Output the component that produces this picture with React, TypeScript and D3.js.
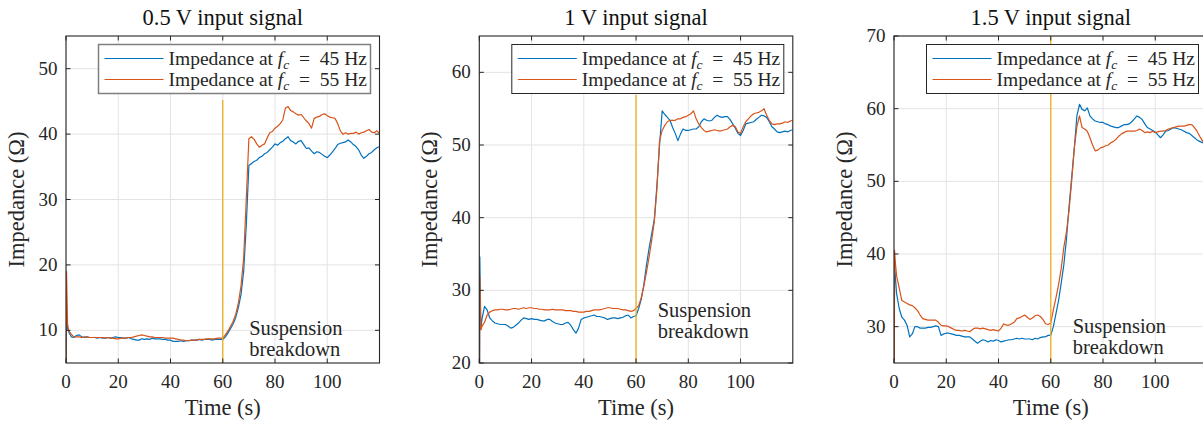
import React from "react";
import * as d3 from "d3";

// ---- data ----
const TIME: number[] = [0, 0.2, 0.6, ...d3.range(1, 121)];
const X_TICKS = [0, 20, 40, 60, 80, 100];
const P1_Y_TICKS = [10, 20, 30, 40, 50];
const P2_Y_TICKS = [20, 30, 40, 50, 60];
const P3_Y_TICKS = [30, 40, 50, 60, 70];
const TITLES = ["0.5 V input signal", "1 V input signal", "1.5 V input signal"];
const LEGEND = ["45", "55"];
const BREAKDOWN_T = 60;

// 0.5 V, fc = 45 Hz
const P1_BLUE = [0, 12, 10.3,
  9.8, 9.0, 8.9, 9.2, 9.3, 9.0, 8.9, 9.0, 8.9, 8.9,
  8.9, 8.8, 8.9, 8.8, 8.8, 8.9, 8.8, 8.9, 9.0, 8.9,
  8.9, 8.8, 8.8, 8.9, 8.7, 8.6, 8.5, 8.5, 8.7, 8.6,
  8.7, 8.6, 8.8, 8.7, 8.7, 8.7, 8.6, 8.6, 8.5, 8.5,
  8.3, 8.3, 8.3, 8.4, 8.3, 8.4, 8.4, 8.5, 8.5, 8.5,
  8.6, 8.5, 8.6, 8.6, 8.6, 8.5, 8.6, 8.6, 8.6, 8.6,
  9.0, 9.6, 10.3, 11.0, 12.0, 13.5, 15.5, 19, 26, 35.2,
  35.5, 35.8, 36.0, 36.4, 36.6, 37.0, 37.2, 37.6, 38.0, 38.5,
  38.3, 38.7, 38.9, 39.3, 39.6, 39.0, 38.8, 38.5, 38.9, 39.0,
  38.4, 37.8, 37.9, 37.4, 37.0, 37.3, 37.2, 36.9, 36.6, 36.4,
  36.8, 37.3, 37.8, 38.4, 38.6, 38.7, 38.8, 39.1, 38.8, 38.4,
  38.1, 37.6, 36.8, 36.3, 36.6, 37.0, 37.2, 37.6, 37.9, 38.1];
// 0.5 V, fc = 55 Hz
const P1_RED = [0, 19, 11,
  10.0, 9.4, 9.0, 9.0, 9.0, 8.9, 9.0, 9.0, 8.9, 8.9,
  8.9, 8.9, 8.9, 8.9, 8.8, 8.9, 8.8, 8.8, 8.7, 8.7,
  8.8, 8.8, 8.8, 8.9, 8.9, 9.0, 9.1, 9.2, 9.3, 9.2,
  9.1, 9.0, 9.0, 8.9, 8.9, 8.9, 8.9, 8.8, 8.8, 8.8,
  8.8, 8.7, 8.6, 8.5, 8.5, 8.4, 8.4, 8.5, 8.5, 8.5,
  8.6, 8.6, 8.6, 8.7, 8.7, 8.7, 8.7, 8.8, 8.8, 8.8,
  9.3, 9.9, 10.6, 11.4, 12.5, 14.2, 16.8, 21, 30, 39.3,
  39.6, 39.2, 38.5, 38.0, 38.3, 38.5, 39.4, 40.2, 40.4, 40.9,
  41.2, 41.6, 42.2, 44.0, 44.2, 43.6, 43.4, 43.1, 42.9, 43.0,
  42.5, 42.0, 41.6, 40.9, 42.4, 42.6, 42.7, 43.0, 43.1, 42.8,
  42.6, 42.5, 42.4, 41.6, 40.5, 40.0, 40.2, 40.0, 40.1, 40.1,
  40.3, 40.0, 40.2, 40.3, 40.5, 40.7, 40.3, 40.2, 40.5, 40.1];
// 1 V, fc = 45 Hz
const P2_BLUE = [0, 34.6, 24.6,
  26.0, 27.8, 27.3, 26.2, 25.8, 25.5, 25.4, 25.3, 25.3, 25.3,
  25.1, 24.8, 24.9, 25.2, 25.5, 25.9, 26.2, 26.1, 26.0, 26.1,
  26.0, 26.0, 25.9, 25.8, 25.8, 26.0, 26.0, 25.7, 25.5, 25.4,
  25.3, 25.3, 25.5, 25.6, 25.2, 24.6, 24.1, 24.8, 26.0, 26.2,
  26.3, 26.4, 26.5, 26.6, 26.4, 26.4, 26.3, 26.2, 26.0, 26.1,
  26.2, 26.2, 26.1, 26.2, 26.3, 26.5, 26.6, 26.2, 26.4, 26.5,
  27.5, 28.8, 30.8, 33.5, 35.8, 37.8, 39.8, 44.5, 50.0, 54.7,
  54.2, 53.8, 53.4, 52.4, 51.6, 50.6, 51.5, 52.2, 52.0, 52.0,
  52.1, 52.2, 52.2, 52.5, 53.2, 53.6, 53.4, 53.3, 53.4, 53.8,
  54.1, 53.9, 53.8, 53.9, 53.9, 53.5, 52.9, 52.3, 51.6, 51.3,
  52.0, 52.9, 53.0, 53.1, 53.2, 53.5, 53.8, 54.1, 54.0, 53.8,
  53.2, 52.5, 52.2, 51.8, 51.7, 51.8, 51.9, 51.8, 52.0, 52.1];
// 1 V, fc = 55 Hz
const P2_RED = [0, 31.9, 24.6,
  25.0, 25.6, 26.6, 27.0, 27.2, 27.3, 27.3, 27.4, 27.4, 27.3,
  27.3, 27.4, 27.5, 27.5, 27.4, 27.5, 27.6, 27.5, 27.6, 27.6,
  27.5, 27.5, 27.4, 27.4, 27.3, 27.3, 27.3, 27.4, 27.3, 27.3,
  27.3, 27.3, 27.2, 27.2, 27.2, 27.1, 27.1, 27.0, 27.0, 27.0,
  27.1, 27.1, 27.2, 27.3, 27.3, 27.3, 27.4, 27.5, 27.6, 27.6,
  27.5, 27.5, 27.5, 27.4, 27.3, 27.3, 27.2, 27.1, 27.2, 27.5,
  27.9, 29.0, 30.6, 32.5, 34.6, 36.9, 39.5, 44.0, 50.6, 52.0,
  52.7, 53.2, 53.4, 53.4, 53.4, 53.6, 53.6, 53.8, 53.9, 54.1,
  54.3, 54.7, 53.6, 52.9, 52.4, 52.0, 51.8, 51.9, 52.0, 52.1,
  52.0, 51.9, 52.0, 52.1, 52.2, 52.5, 52.7, 52.5, 51.8, 51.6,
  52.5, 53.2, 53.6, 54.0, 54.3, 54.4, 54.5, 54.7, 55.0, 54.1,
  53.4, 52.9, 52.8, 52.9, 52.9, 53.0, 53.2, 53.1, 53.3, 53.4];
// 1.5 V, fc = 45 Hz
const P3_BLUE = [0, 38.5, 36.5,
  34.5, 32.5, 31.3, 30.9, 30.2, 28.6, 29.0, 30.0, 30.0, 29.8,
  29.8, 29.8, 29.9, 29.9, 30.0, 30.1, 30.0, 28.8, 29.0, 29.1,
  29.1, 29.0, 28.9, 28.8, 28.8, 28.7, 28.6, 28.6, 28.6, 28.3,
  28.0, 27.7, 28.0, 28.2, 28.1, 27.9, 28.1, 28.0, 28.2, 28.1,
  27.9, 28.0, 28.1, 28.2, 28.2, 28.3, 28.4, 28.3, 28.4, 28.3,
  28.3, 28.3, 28.2, 28.4, 28.3, 28.5, 28.6, 28.6, 28.8, 28.8,
  30.0, 31.8, 33.6, 36.0, 38.5, 42.0, 46.5, 50.5, 54.5, 59.0,
  60.6, 59.9, 59.7, 60.1, 59.0, 58.6, 58.3, 58.2, 58.1, 58.1,
  57.9, 57.8, 57.6, 57.5, 57.4, 57.4, 57.6, 57.8, 57.8, 57.9,
  58.2, 58.6, 59.0, 58.8, 58.5, 57.9, 57.4, 57.2, 57.0, 56.8,
  56.4, 56.0, 56.4, 56.9, 57.0, 57.2, 57.4, 57.3, 57.2, 57.1,
  56.9, 56.7, 56.6, 56.3, 56.0, 55.7, 55.5, 55.3, 55.5, 55.2];
// 1.5 V, fc = 55 Hz
const P3_RED = [0, 40.5, 38.5,
  37.0, 35.3, 33.6, 33.4, 33.2, 33.0, 32.9, 32.6, 32.2, 31.6,
  31.1, 31.0, 30.9, 30.9, 30.9, 30.9, 30.6, 30.2, 30.1, 30.1,
  30.0, 29.8, 29.6, 29.5, 29.5, 29.4, 29.5, 29.4, 29.3, 29.6,
  29.8, 29.8, 29.7, 29.8, 29.7, 29.6, 29.5, 29.6, 29.5, 29.4,
  29.8, 30.4, 30.2, 30.2, 30.4, 30.6, 31.1, 31.2, 31.4, 31.6,
  31.3, 31.0, 31.2, 31.5, 31.6, 31.4, 31.0, 30.4, 30.3, 30.5,
  32.3, 34.0, 35.8, 38.0, 40.9, 43.0, 46.0, 50.0, 54.5, 57.5,
  59.0, 57.4, 57.2, 56.9, 56.0, 55.0, 54.2, 54.3, 54.6, 54.7,
  54.9, 55.0, 55.3, 55.5, 55.8, 56.2, 56.5, 56.7, 56.9, 56.9,
  56.9, 56.9, 57.0, 57.2, 57.0, 56.7, 56.8, 56.7, 56.9, 56.7,
  56.8, 56.9, 56.9, 57.0, 57.2, 57.3, 57.4, 57.5, 57.6, 57.6,
  57.6, 57.7, 57.8, 57.8, 57.4, 56.9, 56.2, 55.6, 54.9, 54.6];

// ---- layout / style ----
const FONT = '"Liberation Serif", "Times New Roman", serif';
const BLUE = "#0072BD";
const RED = "#D95319";
const YELLOW = "#EDB120";
const AX = "#262626";
const PW = 313.5;
const PH = 327;

const PANELS = [
  { left: 66, top: 36, yDomain: [5, 55], yTicks: P1_Y_TICKS, blue: P1_BLUE, red: P1_RED, vTop: 45.2, ann: [70.1, 9.3], legendStroke: "#7f7f7f", legendW: 1.5 },
  { left: 479.3, top: 36, yDomain: [20, 65], yTicks: P2_Y_TICKS, blue: P2_BLUE, red: P2_RED, vTop: 56.9, ann: [68.3, 26.35], legendStroke: AX, legendW: 1 },
  { left: 894, top: 36, yDomain: [25, 70], yTicks: P3_Y_TICKS, blue: P3_BLUE, red: P3_RED, vTop: 70, ann: [68.4, 29.1], legendStroke: AX, legendW: 1 },
];

function Panel({ p, idx }: { p: any; idx: number }) {
  const x = d3.scaleLinear().domain([0, 120]).range([p.left, p.left + PW]);
  const y = d3.scaleLinear().domain(p.yDomain).range([p.top + PH, p.top]);
  const line = d3.line<number>().x((_, i) => x(TIME[i])).y((d) => y(d));
  const clipId = `clip${idx}`;
  const bottom = p.top + PH;
  const right = p.left + PW;
  const lgRight = right - 9;
  const lgW = 272;
  const lgL = lgRight - lgW;
  const lgT = p.top + 8.5;
  const lgH = 49;
  const tl = 4.5;
  return (
    <g>
      <defs>
        <clipPath id={clipId}>
          <rect x={p.left} y={p.top} width={PW} height={PH} />
        </clipPath>
      </defs>
      <rect x={p.left} y={p.top} width={PW} height={PH} fill="#fff" />
      {/* grid */}
      {X_TICKS.map((t) => (
        <line key={"gx" + t} x1={x(t)} x2={x(t)} y1={p.top} y2={bottom} stroke="#e3e3e3" strokeWidth={1} />
      ))}
      {p.yTicks.map((t: number) => (
        <line key={"gy" + t} x1={p.left} x2={right} y1={y(t)} y2={y(t)} stroke="#e3e3e3" strokeWidth={1} />
      ))}
      {/* series */}
      <g clipPath={`url(#${clipId})`}>
        <path d={line(p.blue) || ""} fill="none" stroke={BLUE} strokeWidth={1.2} strokeLinejoin="round" />
        <path d={line(p.red) || ""} fill="none" stroke={RED} strokeWidth={1.2} strokeLinejoin="round" />
        <line x1={x(BREAKDOWN_T)} x2={x(BREAKDOWN_T)} y1={y(p.yDomain[0])} y2={y(p.vTop)} stroke={YELLOW} strokeWidth={1.3} />
      </g>
      {/* axes box */}
      <rect x={p.left} y={p.top} width={PW} height={PH} fill="none" stroke={AX} strokeWidth={1.1} />
      {X_TICKS.map((t) => (
        <g key={"tx" + t}>
          <line x1={x(t)} x2={x(t)} y1={bottom} y2={bottom - tl} stroke={AX} />
          <line x1={x(t)} x2={x(t)} y1={p.top} y2={p.top + tl} stroke={AX} />
          <text x={x(t)} y={bottom + 25} textAnchor="middle" fontSize={19} fill={AX}>{t}</text>
        </g>
      ))}
      {p.yTicks.map((t: number) => (
        <g key={"ty" + t}>
          <line x1={p.left} x2={p.left + tl} y1={y(t)} y2={y(t)} stroke={AX} />
          <line x1={right} x2={right - tl} y1={y(t)} y2={y(t)} stroke={AX} />
          <text x={p.left - 8.5} y={y(t) + 6} textAnchor="end" fontSize={19} fill={AX}>{t}</text>
        </g>
      ))}
      {/* labels */}
      <text x={(p.left + right) / 2} y={25} textAnchor="middle" fontSize={22.5} fill="#111">{TITLES[idx]}</text>
      <text x={(p.left + right) / 2} y={415} textAnchor="middle" fontSize={22.5} fill={AX}>Time (s)</text>
      <text transform={`translate(${p.left - 42},${p.top + PH / 2}) rotate(-90)`} textAnchor="middle" fontSize={22.5} fill={AX}>Impedance (Ω)</text>
      {/* annotation */}
      <text x={x(p.ann[0])} y={y(p.ann[1])} fontSize={20.5} fill={AX}>
        <tspan x={x(p.ann[0])}>Suspension</tspan>
        <tspan x={x(p.ann[0])} dy={21}>breakdown</tspan>
      </text>
      {/* legend */}
      <rect x={lgL} y={lgT} width={lgW} height={lgH} fill="#fff" stroke={p.legendStroke} strokeWidth={p.legendW} />
      {LEGEND.map((f, i) => {
        const cy = lgT + 14 + i * 21;
        return (
          <g key={"lg" + i}>
            <line x1={lgL + 6} x2={lgL + 65} y1={cy} y2={cy} stroke={i === 0 ? BLUE : RED} strokeWidth={1.2} />
            <text x={lgL + 70} y={cy + 6.5} fontSize={19.5} fill={AX}>
              Impedance at <tspan fontStyle="italic">f</tspan>
              <tspan fontStyle="italic" fontSize={13.5} dy={4}>c</tspan>
              <tspan dy={-4}>{"\u2002=\u2002" + f + " Hz"}</tspan>
            </text>
          </g>
        );
      })}
    </g>
  );
}

export default function App() {
  return (
    <svg width={1203} height={423} style={{ position: "absolute", left: 0, top: 0, background: "#fff" }} fontFamily={FONT}>
      <rect x={0} y={0} width={1203} height={423} fill="#fff" />
      {PANELS.map((p, i) => (
        <Panel key={i} p={p} idx={i} />
      ))}
    </svg>
  );
}
